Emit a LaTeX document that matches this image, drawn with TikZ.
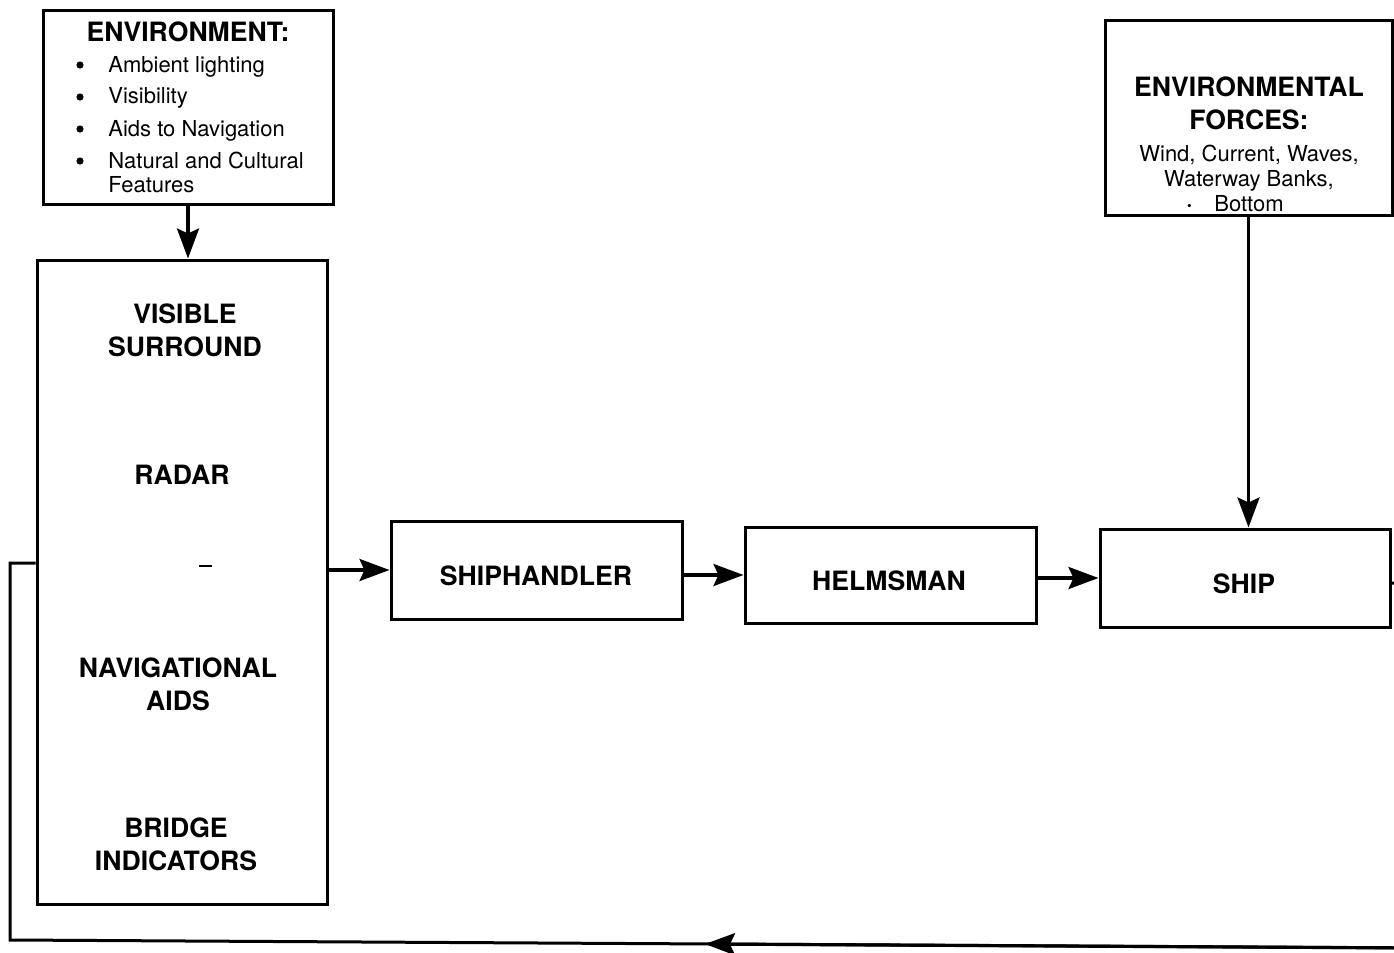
\documentclass[tikz,border=0pt]{standalone}
\usepackage{fontspec}
\setmainfont{TeX Gyre Heros}
\usetikzlibrary{arrows.meta,fit,calc}
\begin{document}
\begin{tikzpicture}[x=0.5pt,y=-0.5pt,
  box/.style={draw, line width=1.5pt, inner sep=0pt},
  big/.style={font=\fontsize{13.3}{16.5}\selectfont\bfseries, align=center, inner sep=0pt},
  small/.style={font=\fontsize{11}{12.5}\selectfont, inner sep=0pt},
  arr/.style={line width=1.6pt, -{Stealth[length=15pt,width=11pt,inset=2.5pt]}},
  conn/.style={line width=1.5pt}]
\useasboundingbox (0,0) rectangle (1394,953);
\clip (0,0) rectangle (1394,953);

% Environment box
\node[box, fit={(43,10)(333,204)}] (env) {};
\node[big, anchor=base] (envt) at (188,41) {ENVIRONMENT:};
\foreach \yy/\t [count=\i] in {72/Ambient lighting,104/Visibility,136/Aids to Navigation,168/Natural and Cultural}{
  \node[small, anchor=base west] (envi\i) at (108,\yy) {\t};
  \fill ($(80,\yy)+(0,-7)$) circle[radius=1.8pt];
}
\node[small, anchor=base west] (envi5) at (108,192) {Features};

% Display box
\node[box, fit={(37,260)(327,904)}] (disp) {};
\node[big] (vis) at (185,330) {VISIBLE\\SURROUND};
\node[big] (rad) at (182,475) {RADAR};
\draw[line width=1pt] (199,566) -- (212,566);
\node[big] (nav) at (178,684) {NAVIGATIONAL\\AIDS};
\node[big] (bri) at (176,844) {BRIDGE\\INDICATORS};

% Chain
\node[box, fit={(391,521)(682,619)}] (sh) {};
\node[big] at (536,576) {SHIPHANDLER};
\node[box, fit={(745,527)(1036,623)}] (hm) {};
\node[big] at (889,581) {HELMSMAN};
\node[box, fit={(1100,529)(1390,627)}] (ship) {};
\node[big] at (1244,584) {SHIP};

% Environmental forces
\node[box, fit={(1105,20)(1392,215)}] (forces) {};
\node[big] (ft) at (1249,103) {ENVIRONMENTAL\\FORCES:};
\node[small, align=center] (fs) at (1249,178) {Wind, Current, Waves,\\Waterway Banks,\\\llap{\textbf{·}\hspace{11pt}}Bottom};

% Arrows
\draw[arr] (env.south) -- (env.south |- disp.north);
\draw[arr] (disp.east |- sh.west) -- (sh.west);
\draw[arr] (sh.east |- hm.west) -- (hm.west);
\draw[arr] (hm.east |- ship.west) -- (ship.west);
\draw[arr] (forces.south) -- (forces.south |- ship.north);

% Feedback loop
\coordinate (c1) at (1420,583);
\coordinate (c2) at (1420,948);
\coordinate (c3) at (10,940);
\coordinate (c4) at (10,563);
\coordinate (tip) at (705,944);
\draw[conn] (ship.east |- c1) -- (c1) -- (c2) -- (c3) -- (c4) -- (c4 -| disp.west);
\draw[arr] (c2) -- (tip);
\end{tikzpicture}
\end{document}
